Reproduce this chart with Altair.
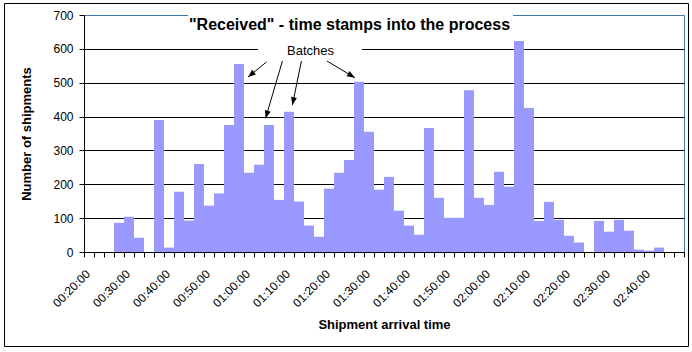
import json
import math
import altair as alt
import pandas as pd

# ---------------- data ----------------
bin_start = [
    "00:20:00", "00:22:30", "00:25:00", "00:27:30", "00:30:00", "00:32:30",
    "00:35:00", "00:37:30", "00:40:00", "00:42:30", "00:45:00", "00:47:30",
    "00:50:00", "00:52:30", "00:55:00", "00:57:30", "01:00:00", "01:02:30",
    "01:05:00", "01:07:30", "01:10:00", "01:12:30", "01:15:00", "01:17:30",
    "01:20:00", "01:22:30", "01:25:00", "01:27:30", "01:30:00", "01:32:30",
    "01:35:00", "01:37:30", "01:40:00", "01:42:30", "01:45:00", "01:47:30",
    "01:50:00", "01:52:30", "01:55:00", "01:57:30", "02:00:00", "02:02:30",
    "02:05:00", "02:07:30", "02:10:00", "02:12:30", "02:15:00", "02:17:30",
    "02:20:00", "02:22:30", "02:25:00", "02:27:30", "02:30:00", "02:32:30",
    "02:35:00", "02:37:30", "02:40:00", "02:42:30", "02:45:00", "02:47:30",
]
counts = [
    0, 0, 0, 86, 104, 42,
    0, 390, 13, 178, 93, 260,
    137, 173, 375, 555, 234, 258,
    375, 154, 414, 149, 78, 45,
    187, 234, 272, 503, 355, 184,
    222, 122, 78, 51, 366, 160,
    101, 101, 478, 160, 139, 237,
    193, 623, 425, 92, 148, 95,
    48, 28, 0, 92, 60, 95,
    63, 7, 4, 13, 0, 0,
]
axis_end = "02:50:00"
bin_minutes = 2.5
tick_labels = [
    "00:20:00", "00:30:00", "00:40:00", "00:50:00", "01:00:00", "01:10:00",
    "01:20:00", "01:30:00", "01:40:00", "01:50:00", "02:00:00", "02:10:00",
    "02:20:00", "02:30:00", "02:40:00",
]
y_ticks = [0, 100, 200, 300, 400, 500, 600, 700]

title_text = '"Received" - time stamps into the process'
note_text = "Batches"
x_title = "Shipment arrival time"
y_title = "Number of shipments"
# arrows from the "Batches" note to the bars (time of day, shipments)
arrow_from_time = ["01:05:36", "01:09:36", "01:14:21", "01:20:45"]
arrow_from_count = [561, 564, 564, 564]
arrow_to_time = ["01:01:00", "01:05:24", "01:12:06", "01:27:42"]
arrow_to_count = [517, 395, 434, 515]

# ---------------- layout ----------------
W, H = 600, 237
PAD = {"left": 84, "top": 15, "right": 8, "bottom": 100}
FONT = "Liberation Sans"
BAR = "#9999FF"
FRAME_BLUE = "#3e78aa"


def to_min(s):
    h, m, sec = (int(v) for v in s.split(":"))
    return h * 60 + m + sec / 60.0


x0, x1 = to_min(bin_start[0]), to_min(axis_end)

bars_df = pd.DataFrame({
    "start": [to_min(t) for t in bin_start],
    "count": counts,
    "time": bin_start,
})
bars_df["end"] = bars_df["start"] + bin_minutes

tick_values = [to_min(t) for t in bin_start] + [x1]
label_expr = (
    "indexof(" + json.dumps(tick_labels) + ", utcFormat(datum.value * 60000, '%H:%M:%S')) >= 0"
    " ? utcFormat(datum.value * 60000, '%H:%M:%S') : ''"
)

x_scale = alt.Scale(domain=[x0, x1], nice=False, zero=False)
y_scale = alt.Scale(domain=[0, 700], nice=False)

x_axis = alt.Axis(
    values=tick_values,
    labelExpr=label_expr,
    labelAngle=315,
    labelAlign="right",
    labelBaseline="top",
    labelPadding=11,
    labelFlush=False,
    labelOverlap=False,
    labelBound=False,
    labelFont=FONT,
    labelFontSize=12,
    labelColor="black",
    tickSize=5,
    tickColor="black",
    domainColor="black",
    grid=False,
    title=x_title,
    titleFont=FONT,
    titleFontSize=13,
    titleFontWeight="bold",
    titleColor="black",
    titleBaseline="alphabetic",
    titleY=76,
    zindex=1,
)
y_axis = alt.Axis(
    values=y_ticks,
    labelFont=FONT,
    labelFontSize=12,
    labelColor="black",
    labelPadding=6,
    tickSize=5,
    tickColor="black",
    domainColor="black",
    grid=True,
    gridColor=alt.condition("datum.value == 700", alt.value("transparent"), alt.value("black")),
    gridWidth=1,
    title=y_title,
    titleFont=FONT,
    titleFontSize=13,
    titleFontWeight="bold",
    titleColor="black",
    titleX=-51,
)

bars = alt.Chart(bars_df).mark_rect(color=BAR, strokeWidth=0).encode(
    x=alt.X("start:Q", scale=x_scale, axis=x_axis),
    x2="end:Q",
    y=alt.Y("count:Q", scale=y_scale, axis=y_axis),
    y2=alt.datum(0),
)

one = pd.DataFrame({"k": [0]})

# white boxes behind the title and the note (they hide border / gridline)
title_box = alt.Chart(one).mark_rect(fill="white", strokeWidth=0).encode(
    x=alt.value(104), x2=alt.value(429), y=alt.value(-8), y2=alt.value(20)
)
note_box = alt.Chart(one).mark_rect(fill="white", strokeWidth=0).encode(
    x=alt.value(174), x2=alt.value(278), y=alt.value(26), y2=alt.value(42)
)

title = alt.Chart(pd.DataFrame({"t": [title_text]})).mark_text(
    font=FONT, fontSize=16, fontWeight="bold", color="black",
    align="center", baseline="alphabetic",
).encode(text="t:N", x=alt.value(265.5), y=alt.value(14.5))

note = alt.Chart(pd.DataFrame({"t": [note_text]})).mark_text(
    font=FONT, fontSize=13, color="black", align="center", baseline="alphabetic",
).encode(text="t:N", x=alt.value(226.5), y=alt.value(40))

# arrows
px_per_min = W / (x1 - x0)
px_per_cnt = H / 700.0
a_rows = []
for ft, fc, tt, tc in zip(arrow_from_time, arrow_from_count, arrow_to_time, arrow_to_count):
    fx, tx = to_min(ft), to_min(tt)
    dx = (tx - fx) * px_per_min
    dy = -(tc - fc) * px_per_cnt
    ang = math.degrees(math.atan2(dx, -dy)) % 360
    a_rows.append({"x": fx, "y": fc, "x2": tx, "y2": tc, "ang": ang})
arrows_df = pd.DataFrame(a_rows)

arrow_lines = alt.Chart(arrows_df).mark_rule(color="black", strokeWidth=1).encode(
    x=alt.X("x:Q", scale=x_scale, axis=x_axis),
    x2="x2:Q",
    y=alt.Y("y:Q", scale=y_scale, axis=y_axis),
    y2="y2:Q",
)
arrow_heads = alt.Chart(arrows_df).mark_point(
    shape="M0,0 L-0.5,1.3 L0.5,1.3 Z", filled=True, color="black",
    opacity=1, size=144, strokeWidth=0,
).encode(
    x=alt.X("x2:Q", scale=x_scale, axis=x_axis),
    y=alt.Y("y2:Q", scale=y_scale, axis=y_axis),
    angle=alt.Angle("ang:Q", scale=None),
)

# outer chart frame
frame = alt.Chart(one).mark_rect(fillOpacity=0, stroke="black", strokeWidth=1).encode(
    x=alt.value(-79.5), x2=alt.value(604.5), y=alt.value(-11.5), y2=alt.value(331.5)
)

chart = alt.layer(
    bars, title_box, note_box, title, note, arrow_lines, arrow_heads, frame
).properties(
    width=W,
    height=H,
    autosize=alt.AutoSizeParams(type="none"),
    padding=PAD,
    background="white",
).configure_view(
    stroke=FRAME_BLUE, strokeWidth=1
)

chart.save("out.html", embed_options={"renderer": "svg", "actions": False})
